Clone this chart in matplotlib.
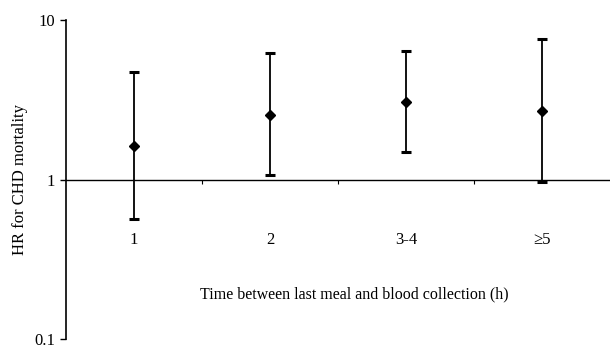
import numpy as np
import matplotlib.pyplot as plt
from matplotlib.ticker import FixedLocator, NullFormatter

# data
categories = ["1", "2", "3-4", "\u22655"]
hr = [1.62, 2.55, 3.07, 2.71]
ci_low = [0.57, 1.07, 1.49, 0.97]
ci_high = [4.71, 6.25, 6.44, 7.63]

plt.rcParams['font.family'] = ['Liberation Serif', 'DejaVu Serif']

fig = plt.figure(figsize=(6.1, 3.48), dpi=100)
ax = fig.add_axes([0.108, 0.025, 0.892, 0.9175])

x = np.arange(len(categories)) + 0.5
hr = np.array(hr)
yerr = [hr - np.array(ci_low), np.array(ci_high) - hr]
ax.errorbar(x, hr, yerr=yerr, fmt='D', color='black', markersize=5.5,
            elinewidth=1.3, capsize=3.5, capthick=2.2)

ax.set_yscale('log')
ax.set_ylim(0.1, 10)
ax.set_xlim(0, 4)
ax.set_yticks([0.1, 1, 10])
ax.set_yticklabels(['0.1', '1', '10'], fontsize=12)
ax.yaxis.set_minor_locator(FixedLocator([]))
ax.tick_params(axis='y', direction='out', length=4, width=1, pad=4)

# x axis drawn through HR = 1
ax.spines['bottom'].set_position(('data', 1))
ax.spines['top'].set_visible(False)
ax.spines['right'].set_visible(False)
ax.spines['left'].set_linewidth(1.2)
ax.spines['bottom'].set_linewidth(1.0)
ax.set_xticks([1, 2, 3])
ax.xaxis.set_major_formatter(NullFormatter())
ax.tick_params(axis='x', which='major', direction='out', length=3, width=0.8)
ax.set_xticks(x, minor=True)
ax.set_xticklabels(categories, minor=True, fontsize=12)
ax.tick_params(axis='x', which='minor', length=0, pad=38)

ax.set_ylabel('HR for CHD mortality', fontsize=12, labelpad=4)
ax.text(0.53, 0.14, 'Time between last meal and blood collection (h)',
        transform=ax.transAxes, ha='center', va='center', fontsize=11.5)

fig.savefig('out.png', dpi=100)
